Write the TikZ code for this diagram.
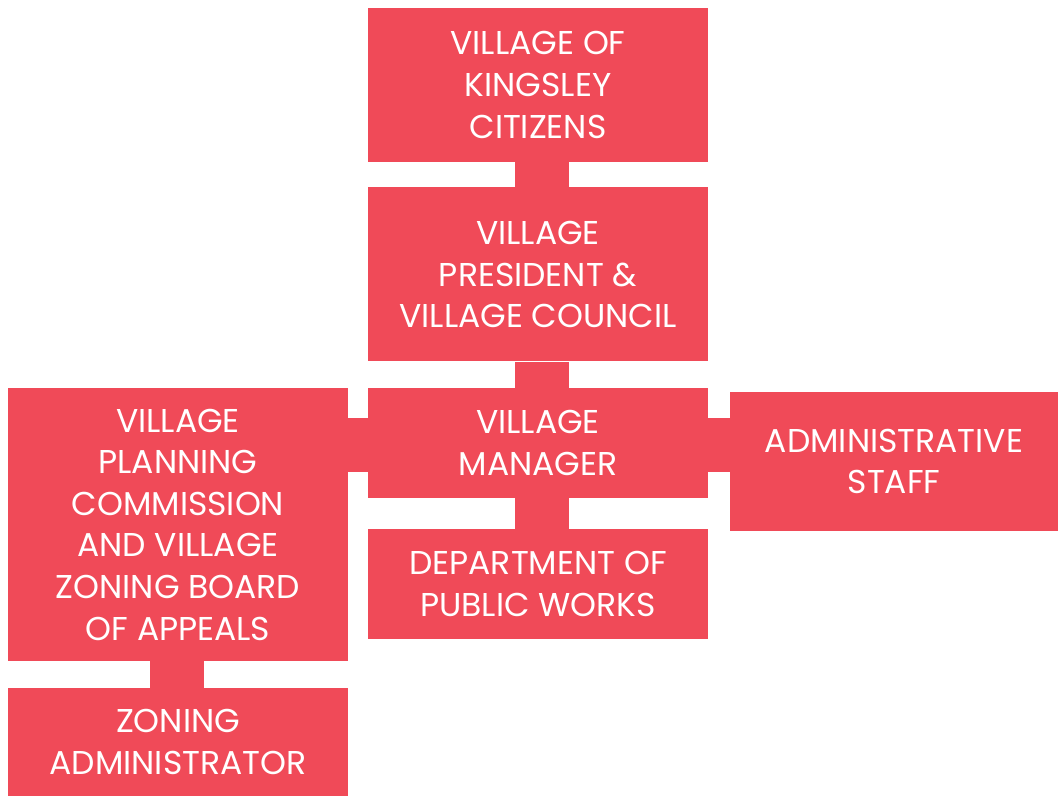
\documentclass[tikz,border=0pt]{standalone}
\usepackage{fontspec}
\setmainfont{Poppins}
\usepackage{tikz}
\definecolor{orgred}{RGB}{240,74,88}

\tikzset{
	box/.style={shape=rectangle, fill=orgred, text=white, align=center, inner sep=0pt,
		font=\fontsize{16.5}{20.8}\selectfont},
	bar/.style={draw=orgred, line width=27pt},
}

\begin{document}
\begin{tikzpicture}[x=0.5pt, y=-0.5pt]
	% Bounding box:
	\useasboundingbox (0, 0) rectangle (1059, 796);
	% Bar positions:
	\coordinate (c1) at (542, 175);
	\coordinate (c2) at (542, 375);
	\coordinate (c3) at (542, 514);
	\coordinate (c4) at (358, 445);
	\coordinate (c5) at (719, 445);
	\coordinate (c6) at (177, 675);
	% Boxes:
	\node[box, minimum width=170pt, minimum height=77pt](Cit) at (538, 85){VILLAGE OF\\KINGSLEY\\CITIZENS};
	\node[box, minimum width=170pt, minimum height=87pt](Pres) at (538, 274.5){VILLAGE\\PRESIDENT \&\\VILLAGE COUNCIL};
	\node[box, minimum width=170pt, minimum height=55pt](Mgr) at (538, 443){VILLAGE\\MANAGER};
	\node[box, minimum width=170pt, minimum height=55pt](DPW) at (538, 584){DEPARTMENT OF\\PUBLIC WORKS};
	\node[box, minimum width=170pt, minimum height=136.5pt](Plan) at (178, 524.5){VILLAGE\\PLANNING\\COMMISSION\\AND VILLAGE\\ZONING BOARD\\OF APPEALS};
	\node[box, minimum width=164pt, minimum height=69.5pt](Adm) at (894, 461.5){ADMINISTRATIVE\\STAFF};
	\node[box, minimum width=170pt, minimum height=54pt](Zon) at (178, 742){ZONING\\ADMINISTRATOR};
	% Bars between boxes:
	\draw[bar] (Cit.south -| c1) -- (Pres.north -| c1);
	\draw[bar] (Pres.south -| c2) -- (Mgr.north -| c2);
	\draw[bar] (Mgr.south -| c3) -- (DPW.north -| c3);
	\draw[bar] (Mgr.west |- c4) -- (Plan.east |- c4);
	\draw[bar] (Mgr.east |- c5) -- (Adm.west |- c5);
	\draw[bar] (Plan.south -| c6) -- (Zon.north -| c6);
\end{tikzpicture}
\end{document}
